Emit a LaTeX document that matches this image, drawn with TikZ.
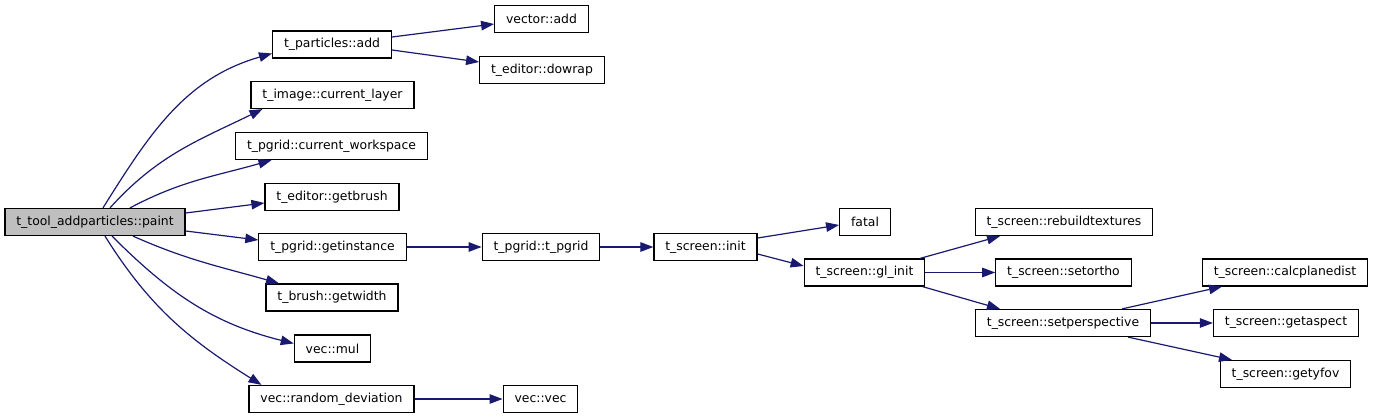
\documentclass[tikz,border=0pt]{standalone}
\usepackage{fontspec}
\setmainfont{DejaVu Sans}
\usetikzlibrary{arrows.meta}
\definecolor{azulflecha}{HTML}{191970}
\definecolor{grisraiz}{HTML}{BFBFBF}
\begin{document}
\begin{tikzpicture}[x=1pt, y=1pt,
    caja/.style={draw=black, line width=1.2pt, rectangle, minimum height=27pt, inner xsep=11.4pt, inner ysep=0pt, font=\fontsize{12.4pt}{14pt}\selectfont},
    flecha/.style={draw=azulflecha, line width=1.2pt, -{Triangle[length=13pt, width=9.5pt]}}]
    \useasboundingbox (0,0) rectangle (1373,-417);
    % Nodo raiz
    \node[caja, fill=grisraiz] (paint) at (95,-222) {t\_tool\_addparticles::paint};
    % Segunda columna
    \node[caja] (padd) at (332,-44.5) {t\_particles::add};
    \node[caja] (curlayer) at (332.5,-95) {t\_image::current\_layer};
    \node[caja] (curws) at (331.5,-146) {t\_pgrid::current\_workspace};
    \node[caja] (getbrush) at (332,-197) {t\_editor::getbrush};
    \node[caja] (getinst) at (332.5,-247) {t\_pgrid::getinstance};
    \node[caja] (getwidth) at (332,-297.5) {t\_brush::getwidth};
    \node[caja] (mul) at (332.5,-348.5) {vec::mul};
    \node[caja] (randdev) at (331.5,-399) {vec::random\_deviation};
    % Tercera columna
    \node[caja] (vadd) at (541.5,-19) {vector::add};
    \node[caja] (dowrap) at (542,-70) {t\_editor::dowrap};
    \node[caja] (tpgrid) at (541,-247) {t\_pgrid::t\_pgrid};
    \node[caja] (vecvec) at (540.5,-399) {vec::vec};
    % t_screen
    \node[caja] (sinit) at (705.5,-247) {t\_screen::init};
    \node[caja] (fatal) at (865,-222) {fatal};
    \node[caja] (glinit) at (864.5,-272.5) {t\_screen::gl\_init};
    \node[caja] (rebuild) at (1064,-222) {t\_screen::rebuildtextures};
    \node[caja] (setortho) at (1063.5,-272.5) {t\_screen::setortho};
    \node[caja] (setpersp) at (1063,-323) {t\_screen::setperspective};
    \node[caja] (calc) at (1285,-272.5) {t\_screen::calcplanedist};
    \node[caja] (getaspect) at (1286,-323) {t\_screen::getaspect};
    \node[caja] (getyfov) at (1285.5,-374) {t\_screen::getyfov};
    % Flechas desde la raiz
    \draw[flecha] ([xshift=8pt]paint.north) to[out=58, in=196] ([yshift=-9pt]padd.west);
    \draw[flecha] ([xshift=15pt]paint.north) to[out=48, in=206] ([xshift=-70pt]curlayer.south);
    \draw[flecha] ([xshift=35pt]paint.north) to[out=28, in=196] ([xshift=-60pt]curws.south);
    \draw[flecha] ([yshift=9pt]paint.east) -- ([yshift=-6pt]getbrush.west);
    \draw[flecha] ([yshift=-9pt]paint.east) -- ([yshift=7pt]getinst.west);
    \draw[flecha] ([xshift=38pt]paint.south) to[out=-24, in=164] ([xshift=-53pt]getwidth.north);
    \draw[flecha] ([xshift=17pt]paint.south) to[out=-45, in=166] ([yshift=5pt]mul.west);
    \draw[flecha] ([xshift=10pt]paint.south) to[out=-58, in=148] ([xshift=-70pt]randdev.north);
    % Resto de llamadas
    \draw[flecha] ([yshift=7.5pt]padd.east) -- ([yshift=-5pt]vadd.west);
    \draw[flecha] ([yshift=-5.5pt]padd.east) -- ([yshift=8pt]dowrap.west);
    \draw[flecha] (getinst) -- (tpgrid);
    \draw[flecha] (randdev) -- (vecvec);
    \draw[flecha] (tpgrid) -- (sinit);
    \draw[flecha] ([yshift=9pt]sinit.east) -- ([yshift=-3pt]fatal.west);
    \draw[flecha] ([yshift=-7pt]sinit.east) -- ([yshift=6.5pt]glinit.west);
    \draw[flecha] ([xshift=55.5pt]glinit.north) -- ([xshift=-64pt]rebuild.south);
    \draw[flecha] (glinit) -- (setortho);
    \draw[flecha] ([xshift=58pt]glinit.south) -- ([xshift=-63pt]setpersp.north);
    \draw[flecha] ([xshift=59pt]setpersp.north) -- ([xshift=-63pt]calc.south);
    \draw[flecha] (setpersp) -- (getaspect);
    \draw[flecha] ([xshift=65pt]setpersp.south) -- ([xshift=-53.5pt]getyfov.north);
\end{tikzpicture}
\end{document}
